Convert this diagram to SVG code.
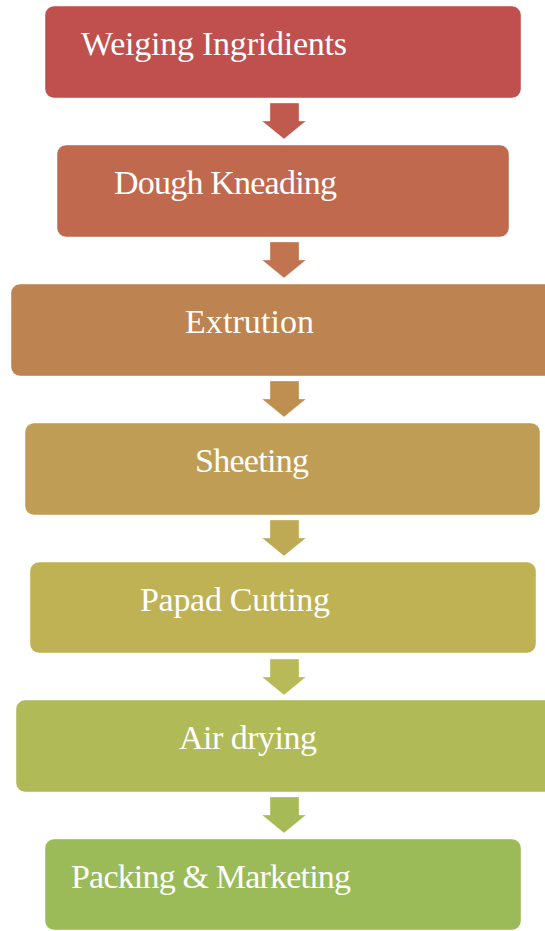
<svg xmlns="http://www.w3.org/2000/svg" width="545" height="931" viewBox="0 0 545 931">
<style>
.box{stroke:#ffffff;stroke-opacity:0.45;stroke-width:1}
.lbl{font-family:"Liberation Serif","Times New Roman",serif;font-size:34px;fill:#ffffff}
.arr{stroke:#ffffff;stroke-opacity:0.35;stroke-width:1}
</style>
<rect width="545" height="931" fill="#ffffff"/>
<g id="connectors">
<polygon class="arr" fill="#C15A4E" points="270,103 299,103 299,121 306,121 284,139 262,121 270,121"/>
<polygon class="arr" fill="#C0744F" points="270,242 299,242 299,260 306,260 284,278 262,260 270,260"/>
<polygon class="arr" fill="#BE8F51" points="270,381 299,381 299,399 306,399 284,417 262,399 270,399"/>
<polygon class="arr" fill="#BEA954" points="270,520 299,520 299,538 306,538 284,556 262,538 270,538"/>
<polygon class="arr" fill="#B8BA57" points="270,659 299,659 299,677 306,677 284,695 262,677 270,677"/>
<polygon class="arr" fill="#A6BB58" points="270,797 299,797 299,815 306,815 284,833 262,815 270,815"/>
</g>
<g id="node1">
<rect class="box" x="45" y="6" width="476" height="92" rx="9" fill="#C0504D"/>
<text class="lbl" x="81" y="55" textLength="266">Weiging Ingridients</text>
</g>
<g id="node2">
<rect class="box" x="57" y="145" width="452" height="92" rx="9" fill="#C0694F"/>
<text class="lbl" x="114" y="194" textLength="223">Dough Kneading</text>
</g>
<g id="node3">
<rect class="box" x="11" y="284" width="545" height="92" rx="9" fill="#BD8350"/>
<text class="lbl" x="185" y="333" textLength="129">Extrution</text>
</g>
<g id="node4">
<rect class="box" x="25" y="423" width="515" height="92" rx="9" fill="#BF9D54"/>
<text class="lbl" x="195" y="472" textLength="114">Sheeting</text>
</g>
<g id="node5">
<rect class="box" x="30" y="562" width="506" height="91" rx="9" fill="#BFB255"/>
<text class="lbl" x="140" y="611" textLength="190">Papad Cutting</text>
</g>
<g id="node6">
<rect class="box" x="16" y="700" width="540" height="92" rx="9" fill="#B0BB57"/>
<text class="lbl" x="179" y="749" textLength="138">Air drying</text>
</g>
<g id="node7">
<rect class="box" x="45" y="839" width="476" height="91" rx="9" fill="#9BBB59"/>
<text class="lbl" x="71" y="888" textLength="280">Packing &amp; Marketing</text>
</g>
</svg>
